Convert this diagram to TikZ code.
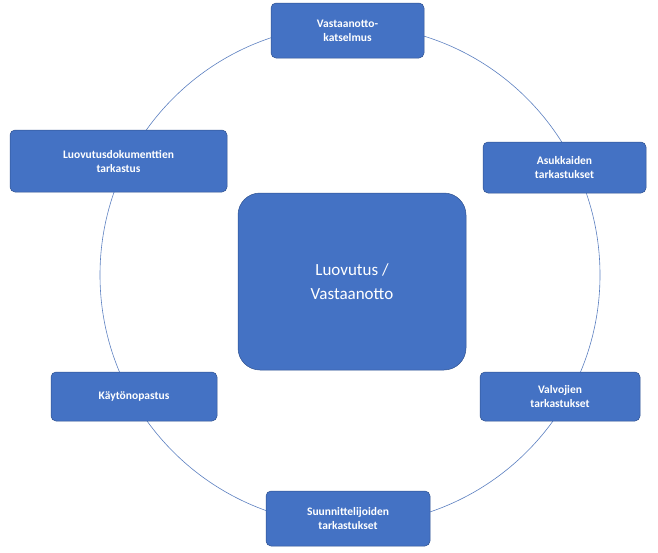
\documentclass[tikz,border=0pt]{standalone}
\usepackage{fontspec}
\setmainfont{Carlito}
\definecolor{boxblue}{HTML}{4472C4}
\definecolor{edgeblue}{HTML}{2F528F}
\definecolor{ringblue}{HTML}{5B7FC0}
\begin{document}
\begin{tikzpicture}[x=1pt,y=-1pt,
  bx/.style={draw=edgeblue,line width=0.5pt,fill=boxblue,rounded corners=5pt,text=white,font=\bfseries\fontsize{11.5}{14}\selectfont,align=center,inner sep=0pt}]
\useasboundingbox (0,0) rectangle (658,552);
\draw[ringblue,line width=0.6pt] (350,275) circle (250);
\node[bx,minimum width=153pt,minimum height=55pt] (a) at (347.5,30.5) {Vastaanotto-\\katselmus};
\node[bx,minimum width=163pt,minimum height=51pt] (b) at (564.5,167.5) {Asukkaiden\\tarkastukset};
\node[bx,minimum width=160pt,minimum height=49pt] (c) at (560,396.5) {Valvojien\\tarkastukset};
\node[bx,minimum width=164pt,minimum height=55pt] (d) at (348,518.5) {Suunnittelijoiden\\tarkastukset};
\node[bx,minimum width=166pt,minimum height=49pt] (e) at (134,396.5) {Käytönopastus};
\node[bx,minimum width=217pt,minimum height=62pt] (f) at (118.5,161) {Luovutusdokumenttien\\tarkastus};
\node[bx,rounded corners=22pt,minimum width=228pt,minimum height=177pt,font=\fontsize{17}{24}\selectfont] (g) at (352,281.5) {Luovutus /\\Vastaanotto};
\end{tikzpicture}
\end{document}
